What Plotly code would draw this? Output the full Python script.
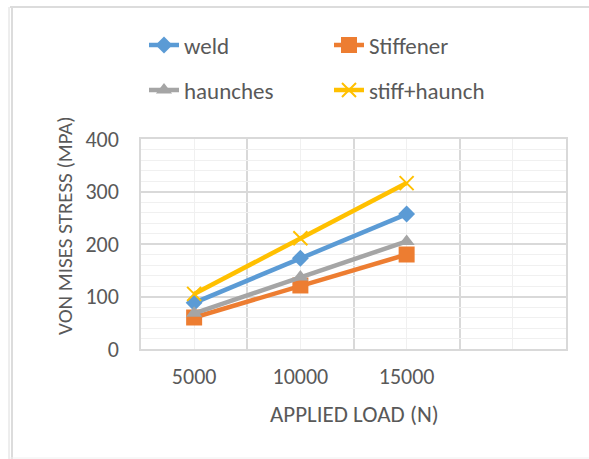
import plotly.graph_objects as go

# Applied load (N) and von Mises stress (MPa) for each connection detail
loads = [5000, 10000, 15000]
weld = [88, 173, 257]
stiffener = [60, 121, 180]
haunches = [68, 137, 205]
stiff_haunch = [105, 211, 316]

x_tick_vals = [5000, 10000, 15000, 20000]
x_tick_text = ["5000", "10000", "15000", ""]
y_tick_vals = [0, 100, 200, 300, 400]

FONT = "Carlito, Lato, Liberation Sans, sans-serif"
TXT = "#595959"

W, H = 589, 459
L, R, T, B = 141, 23, 139, 110
PW, PH = W - L - R, H - T - B


def px_x(px):
    return (px - L) / PW


def px_y(py):
    return (H - B - py) / PH


series = [
    ("weld", weld, "#5B9BD5", dict(symbol="diamond", size=13), "legend"),
    ("Stiffener", stiffener, "#ED7D31", dict(symbol="square", size=16), "legend"),
    ("haunches", haunches, "#A5A5A5", dict(symbol="triangle-up", size=14), "legend2"),
    ("stiff+haunch", stiff_haunch, "#FFC000",
     dict(symbol="x-thin", size=14, line=dict(width=2)), "legend2"),
]

fig = go.Figure()
for name, vals, color, mk, lg in series:
    marker = dict(color=color, **mk)
    if "line" in marker:
        marker["line"]["color"] = color
    fig.add_trace(go.Scatter(
        x=loads, y=vals, name=name, mode="lines+markers",
        line=dict(color=color, width=4.5), marker=marker, legend=lg,
    ))

legend_common = dict(
    orientation="h", xanchor="left", yanchor="middle",
    font=dict(family=FONT, size=23, color=TXT),
    bgcolor="rgba(0,0,0,0)", entrywidth=140, itemwidth=30,
    tracegroupgap=0,
)

fig.update_layout(
    width=W, height=H,
    margin=dict(l=L, r=R, t=T, b=B),
    paper_bgcolor="white", plot_bgcolor="white",
    font=dict(family=FONT, color=TXT),
    legend=dict(x=px_x(144), y=px_y(45), **legend_common),
    legend2=dict(x=px_x(144), y=px_y(90), **legend_common),
    xaxis=dict(
        range=[2500, 22500], tickvals=x_tick_vals, ticktext=x_tick_text,
        showgrid=True, gridcolor="#f0f0f0", gridwidth=1,
        minor=dict(tickvals=[2500, 7500, 12500, 17500, 22500],
                   showgrid=True, gridcolor="#d9d9d9", gridwidth=1.5),
        zeroline=False, showline=True, linecolor="#d9d9d9", linewidth=1.5,
        mirror=True, ticks="", ticklabelstandoff=7,
        tickfont=dict(family=FONT, size=22, color=TXT),
    ),
    yaxis=dict(
        range=[0, 400], tickvals=y_tick_vals,
        showgrid=True, gridcolor="#d9d9d9", gridwidth=1.5,
        minor=dict(dtick=20, showgrid=True, gridcolor="#f0f0f0", gridwidth=1),
        zeroline=False, showline=True, linecolor="#d9d9d9", linewidth=1.5,
        mirror=True, ticks="", ticklabelstandoff=16,
        tickfont=dict(family=FONT, size=22, color=TXT),
    ),
    annotations=[
        dict(text="VON MISES STRESS (MPA)", textangle=-90,
             x=px_x(65), y=px_y(226), xref="paper", yref="paper",
             xanchor="center", yanchor="middle",
             showarrow=False, font=dict(family=FONT, size=21, color=TXT)),
        dict(text="APPLIED LOAD (N)",
             x=px_x(354), y=px_y(414), xref="paper", yref="paper",
             xanchor="center", yanchor="middle",
             showarrow=False, font=dict(family=FONT, size=23, color=TXT)),
    ],
    shapes=[
        dict(type="line", xref="paper", yref="paper",
             x0=px_x(10), x1=px_x(589), y0=px_y(7), y1=px_y(7),
             line=dict(color="#dcdcdc", width=2)),
        dict(type="line", xref="paper", yref="paper",
             x0=px_x(9), x1=px_x(9), y0=px_y(7), y1=px_y(459),
             line=dict(color="#dcdcdc", width=1)),
        dict(type="line", xref="paper", yref="paper",
             x0=px_x(12), x1=px_x(12), y0=px_y(7), y1=px_y(459),
             line=dict(color="#dcdcdc", width=2)),
        dict(type="line", xref="paper", yref="paper",
             x0=px_x(10), x1=px_x(589), y0=px_y(458), y1=px_y(458),
             line=dict(color="#f0f0f0", width=1)),
    ],
)

fig.write_html("out.html")
